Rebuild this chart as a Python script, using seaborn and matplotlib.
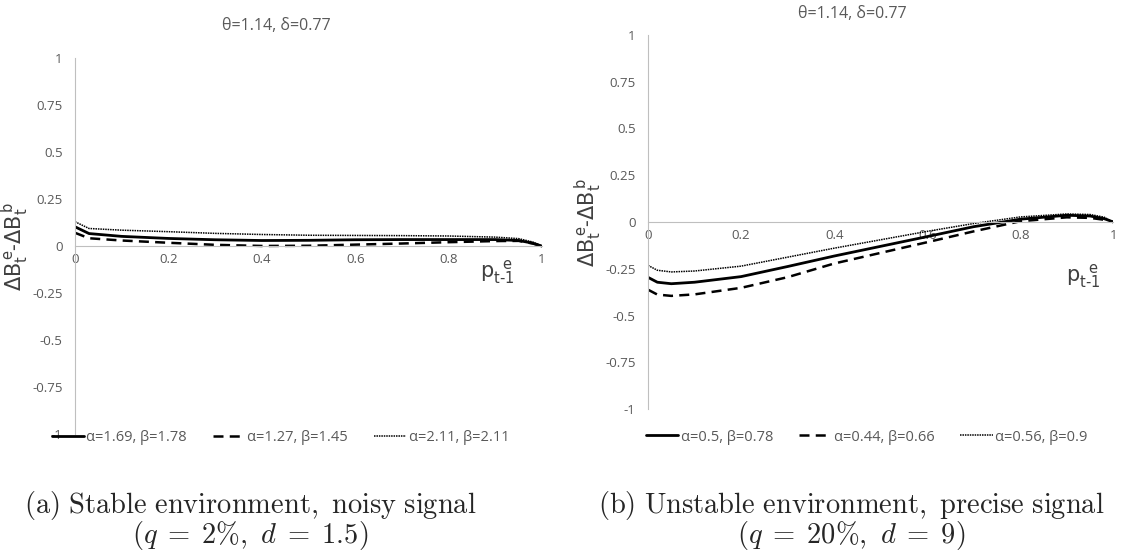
import numpy as np
import pandas as pd
import matplotlib
matplotlib.use("Agg")
import matplotlib.pyplot as plt
import seaborn as sns

# left panel: stable environment, noisy signal
x_a = [0, 0.03, 0.1, 0.2, 0.3, 0.4, 0.5, 0.6, 0.7, 0.8, 0.9, 0.95, 0.98, 1.0]
solid_a = [0.103, 0.067, 0.052, 0.041, 0.034, 0.030, 0.031, 0.034, 0.035, 0.035, 0.035, 0.030, 0.016, 0.0]
dashed_a = [0.071, 0.042, 0.030, 0.018, 0.007, 0.001, 0.002, 0.008, 0.014, 0.021, 0.027, 0.028, 0.014, 0.0]
dotted_a = [0.130, 0.094, 0.085, 0.077, 0.068, 0.062, 0.058, 0.057, 0.056, 0.054, 0.048, 0.040, 0.022, 0.0]
labels_a = ["α=1.69, β=1.78", "α=1.27, β=1.45", "α=2.11, β=2.11"]

# right panel: unstable environment, precise signal
x_b = [0, 0.02, 0.05, 0.1, 0.2, 0.3, 0.4, 0.5, 0.6, 0.7, 0.8, 0.9, 0.95, 0.98, 1.0]
solid_b = [-0.296, -0.322, -0.330, -0.322, -0.292, -0.238, -0.182, -0.130, -0.078, -0.025, 0.015, 0.036, 0.032, 0.018, 0.0]
dashed_b = [-0.362, -0.388, -0.395, -0.387, -0.352, -0.295, -0.222, -0.165, -0.108, -0.050, 0.004, 0.025, 0.022, 0.012, 0.0]
dotted_b = [-0.232, -0.258, -0.267, -0.262, -0.236, -0.188, -0.140, -0.095, -0.050, -0.008, 0.027, 0.043, 0.040, 0.026, 0.0]
labels_b = ["α=0.5, β=0.78", "α=0.44, β=0.66", "α=0.56, β=0.9"]

title = "θ=1.14, δ=0.77"
xticks = [0, 0.2, 0.4, 0.6, 0.8, 1]
yticks = [-1, -0.75, -0.5, -0.25, 0, 0.25, 0.5, 0.75, 1]

sns.set_style("white")
plt.rcParams['font.family'] = ['Open Sans', 'DejaVu Sans']
grey = '#595959'

fig = plt.figure(figsize=(11.28, 5.55), dpi=100)
ax1 = fig.add_axes([0.0665, 0.218, 0.414, 0.677])
ax2 = fig.add_axes([0.5745, 0.263, 0.4125, 0.674])

styles = [dict(linestyle='-', lw=2.0),
          dict(linestyle=(0, (4, 2.5)), lw=1.8),
          dict(linestyle=(0, (1, 0.6)), lw=1.1)]


def panel(ax, x, series, labels, xlab_pos, leg_anchor, title_pos, ylab_x):
    for y, lab, st in zip(series, labels, styles):
        sns.lineplot(x=x, y=y, color='black', label=lab, ax=ax, **st)
    ax.set_xlim(0, 1)
    ax.set_ylim(-1, 1)
    for s in ['top', 'right']:
        ax.spines[s].set_visible(False)
    ax.spines['left'].set_color('#bfbfbf')
    ax.spines['bottom'].set_color('#bfbfbf')
    ax.spines['bottom'].set_position(('data', 0))
    ax.set_xticks(xticks)
    ax.set_xticklabels(['0', '0.2', '0.4', '0.6', '0.8', '1'])
    ax.set_yticks(yticks)
    ax.set_yticklabels(['-1', '-0.75', '-0.5', '-0.25', '0', '0.25', '0.5', '0.75', '1'])
    ax.tick_params(axis='both', length=0, colors=grey, labelsize=9.5)
    ax.tick_params(axis='y', pad=9)
    ax.tick_params(axis='x', pad=5)
    ax.set_ylabel(r"$\Delta\mathrm{B}_{\mathrm{t}}^{\,\mathrm{e}}$-$\Delta\mathrm{B}_{\mathrm{t}}^{\,\mathrm{b}}$",
                  fontsize=15, color='#404040')
    ax.yaxis.set_label_coords(ylab_x, 0.5)
    ax.set_xlabel("")
    ax.text(xlab_pos[0], xlab_pos[1], r"$\mathrm{p}_{\mathrm{t}\text{-}\mathrm{1}}^{\ \ \mathrm{e}}$",
            transform=ax.transAxes, fontsize=15, color='#404040', ha='center', va='center')
    ax.text(title_pos[0], title_pos[1], title, transform=ax.transAxes,
            fontsize=11.5, color=grey, ha='center', va='center')
    ax.legend(loc='center', bbox_to_anchor=leg_anchor, ncol=3, frameon=False,
              fontsize=10.5, handlelength=2.2, handletextpad=0.15, columnspacing=1.8,
              labelcolor=grey)


panel(ax1, x_a, [solid_a, dashed_a, dotted_a], labels_a, (0.905, 0.43), (0.44, -0.01),
      (0.43, 1.085), -0.095)
panel(ax2, x_b, [solid_b, dashed_b, dotted_b], labels_b, (0.935, 0.355), (0.47, -0.075),
      (0.44, 1.055), -0.095)

cap = dict(ha='center', va='center', fontsize=20.5, math_fontfamily='cm')
fig.text(0.222, 0.09, r"$\mathrm{(a)\ Stable\ environment,\ noisy\ signal}$", **cap)
fig.text(0.222, 0.036, r"$(q\;=\;2\%,\ d\;=\;1.5)$", **cap)
fig.text(0.755, 0.09, r"$\mathrm{(b)\ Unstable\ environment,\ precise\ signal}$", **cap)
fig.text(0.755, 0.036, r"$(q\;=\;20\%,\ d\;=\;9)$", **cap)

fig.savefig("out.png", dpi=100)
